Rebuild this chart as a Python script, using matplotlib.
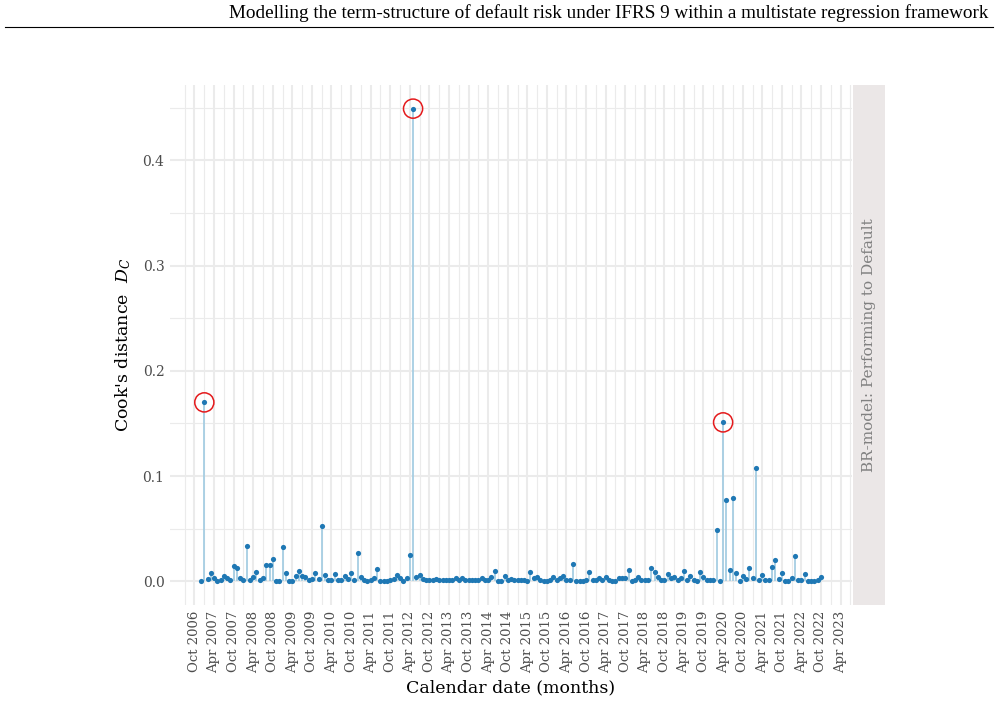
"""
Cook's distance per calendar month for the BR-model (Performing to Default).
"""

import matplotlib
matplotlib.use("Agg")
import matplotlib.pyplot as plt
import matplotlib.dates as mdates
from matplotlib.lines import Line2D
import numpy as np
import pandas as pd

# Cook's distance, one value per month starting Dec 2006
cooks_d = [
    0.000, 0.170, 0.002, 0.008, 0.0035, 0.0005, 0.001, 0.005, 0.0035, 0.001,
    0.0145, 0.013, 0.003, 0.001, 0.034, 0.001, 0.004, 0.009, 0.001, 0.003,
    0.016, 0.016, 0.021, 0.000, 0.000, 0.033, 0.008, 0.000, 0.000, 0.005,
    0.010, 0.0047, 0.004, 0.001, 0.0025, 0.0075, 0.002, 0.053, 0.0065, 0.001,
    0.001, 0.007, 0.001, 0.001, 0.005, 0.002, 0.0075, 0.001, 0.0265, 0.0045,
    0.001, 0.000, 0.001, 0.0035, 0.012, 0.000, 0.000, 0.000, 0.001, 0.002,
    0.0065, 0.0035, 0.000, 0.0035, 0.025, 0.449, 0.004, 0.006, 0.002, 0.001,
    0.001, 0.001, 0.0025, 0.0015, 0.001, 0.001, 0.001, 0.0015, 0.003, 0.001,
    0.003, 0.001, 0.001, 0.001, 0.001, 0.001, 0.003, 0.001, 0.001, 0.0045,
    0.0095, 0.0005, 0.0005, 0.0054, 0.0015, 0.002, 0.001, 0.001, 0.0015, 0.0015,
    0.0005, 0.0088, 0.003, 0.0045, 0.001, 0.0005, 0.0005, 0.001, 0.004, 0.001,
    0.003, 0.0055, 0.0015, 0.001, 0.0167, 0.0005, 0.0005, 0.0005, 0.001, 0.0088,
    0.001, 0.0015, 0.0035, 0.001, 0.004, 0.001, 0.0005, 0.000, 0.0035, 0.0035,
    0.003, 0.0107, 0.0005, 0.0015, 0.004, 0.001, 0.0015, 0.0015, 0.013, 0.009,
    0.004, 0.0015, 0.001, 0.007, 0.003, 0.0045, 0.001, 0.003, 0.0095, 0.0015,
    0.0055, 0.001, 0.0005, 0.009, 0.0045, 0.001, 0.001, 0.001, 0.0487, 0.000,
    0.151, 0.077, 0.0107, 0.079, 0.0076, 0.0005, 0.0054, 0.002, 0.0126, 0.003,
    0.108, 0.001, 0.006, 0.001, 0.001, 0.0136, 0.0205, 0.002, 0.0076, 0.0005,
    0.0005, 0.0035, 0.024, 0.001, 0.001, 0.0066, 0.0005, 0.0005, 0.0005, 0.001,
    0.0038,
]
dates = pd.date_range("2006-12-01", periods=len(cooks_d), freq="MS")
tick_dates = pd.date_range("2006-10-01", "2023-04-01", freq="6MS")
y_ticks = [0.0, 0.1, 0.2, 0.3, 0.4]
header = "Modelling the term-structure of default risk under IFRS 9 within a multistate regression framework"
strip_label = "BR-model: Performing to Default"

plt.rcParams["font.family"] = ["DejaVu Serif"]
plt.rcParams["mathtext.fontset"] = "dejavuserif"

fig = plt.figure(figsize=(9.99, 7.04), dpi=100)

# page header
fig.text(988 / 999, 1 - 13 / 704, header, ha="right", va="center",
         fontsize=13.8, family="Liberation Serif")
fig.add_artist(Line2D([5 / 999, 993 / 999], [1 - 27 / 704, 1 - 27 / 704],
                      color="black", linewidth=0.8))

ax = fig.add_axes([170 / 999, 99 / 704, 682 / 999, 520 / 704])

x = mdates.date2num(dates)
y = np.array(cooks_d)

ax.vlines(x, 0, y, color="#a6cee3", linewidth=1.3, zorder=2)
ax.scatter(x, y, s=14, color="#1f78b4", zorder=3, linewidths=0)

# circle the three largest distances
top = np.argsort(y)[-3:]
ax.scatter(x[top], y[top], s=190, facecolors="none", edgecolors="#e41a1c",
           linewidths=1.1, zorder=4)

# ggplot-style 5% expansion
xr = x[-1] - x[0]
ax.set_xlim(x[0] - 0.05 * xr, x[-1] + 0.05 * xr)
yr = y.max()
ax.set_ylim(-0.05 * yr, 1.05 * yr)

ax.set_xticks(mdates.date2num(tick_dates))
ax.set_xticklabels([d.strftime("%b %Y") for d in tick_dates], rotation=90,
                   fontsize=9.5, color="#4d4d4d")
minor_dates = pd.date_range("2006-07-01", "2023-07-01", freq="6MS")
ax.set_xticks(mdates.date2num(minor_dates), minor=True)
ax.set_yticks(y_ticks)
ax.set_yticklabels([f"{v:.1f}" for v in y_ticks], fontsize=10, color="#4d4d4d")
ax.set_yticks(np.arange(0.05, 0.5, 0.1), minor=True)

ax.grid(which="major", color="#ebebeb", linewidth=1.5, zorder=0)
ax.grid(which="minor", color="#ebebeb", linewidth=0.8, zorder=0)
ax.set_axisbelow(True)
ax.tick_params(which="both", length=0, pad=4)
for s in ax.spines.values():
    s.set_visible(False)

ax.set_ylabel("Cook's distance  $D_C$", fontsize=12.5, labelpad=7)
ax.set_xlabel("Calendar date (months)", fontsize=12.5, labelpad=5)

# facet strip on the right
strip = fig.add_axes([853 / 999, 99 / 704, 32 / 999, 520 / 704])
strip.set_facecolor("#ebe7e7")
strip.set_xticks([])
strip.set_yticks([])
for s in strip.spines.values():
    s.set_visible(False)
strip.text(0.5, 0.5, strip_label, rotation=90, ha="center", va="center",
           fontsize=11, color="#808080", transform=strip.transAxes)

fig.savefig("out.png", dpi=100)
